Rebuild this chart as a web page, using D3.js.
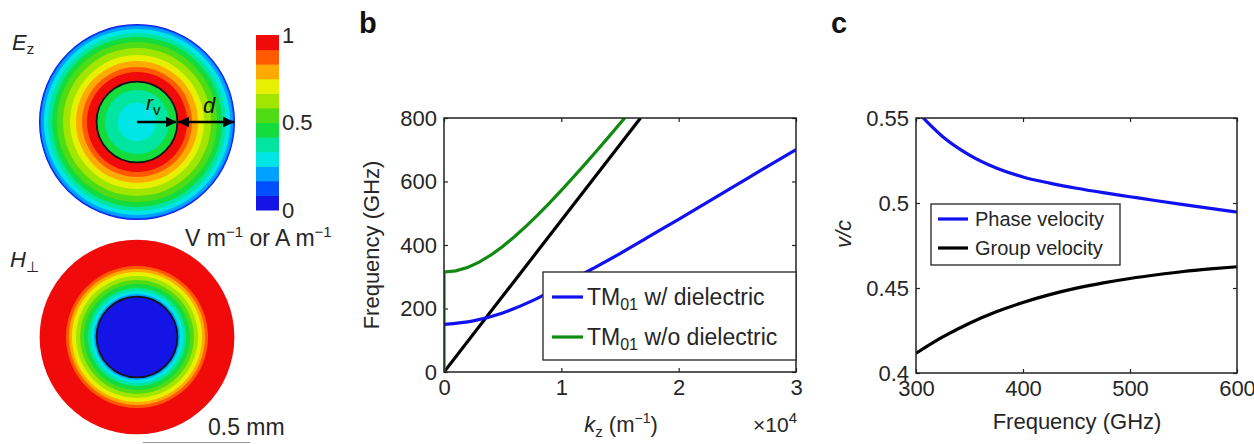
<!DOCTYPE html>
<html>
<head>
<meta charset="utf-8">
<script src="https://cdn.jsdelivr.net/npm/d3@7"></script>
<style>
  body { margin: 0; background: #fff; }
  svg { display: block; font-family: "Liberation Sans", Arial, Helvetica, sans-serif; }
</style>
</head>
<body>
<svg id="fig" width="1254" height="444"></svg>
<script>
// panel a: radial field maps, radius in mm (outer edge of each ring) and normalised field
var rv = 0.189, rOuter = 0.458;
var ezRadius = [0.090, 0.150, 0.189, 0.234, 0.257, 0.285, 0.313, 0.346, 0.374, 0.397, 0.416, 0.435, 0.449, 0.454, 0.458];
var ezValue  = [0.30, 0.38, 0.46, 0.96, 0.88, 0.79, 0.71, 0.62, 0.54, 0.46, 0.38, 0.29, 0.21, 0.12, 0.04];
var hRadius = [0.189, 0.201, 0.215, 0.229, 0.248, 0.266, 0.285, 0.304, 0.318, 0.332, 0.455];
var hValue  = [0.04, 0.21, 0.29, 0.38, 0.46, 0.54, 0.62, 0.71, 0.79, 0.88, 0.96];
var cbTicks = [0, 0.5, 1];

// panel b: dispersion, kz in 1e4 m^-1, frequency in GHz
var blueK = [0, 0.25, 0.5, 0.75, 1.0, 1.25, 1.5, 1.75, 2.0, 2.25, 2.5, 2.75, 3.0];
var blueF = [150, 161, 186, 224, 272, 322, 373, 427, 481, 536, 591, 646, 700];
var greenK = [0, 0, 0.1, 0.2, 0.3, 0.4, 0.5, 0.6, 0.7, 0.8, 0.9, 1.0, 1.1, 1.2, 1.3, 1.4, 1.5, 1.54];
var greenF = [0, 315, 318.6, 329.2, 346.0, 368.4, 395.3, 425.8, 459.3, 495.1, 532.8, 572.0, 612.5, 653.9, 696.1, 739.0, 782.5, 800];
var lightK = [0, 1.675];
var lightF = [0, 800];
var bXTicks = [0, 1, 2, 3];
var bYTicks = [0, 200, 400, 600, 800];

// panel c: velocities vs frequency
var velF = [300, 325, 350, 375, 400, 425, 450, 475, 500, 525, 550, 575, 600];
var phaseV = [0.5545, 0.5390, 0.5282, 0.5206, 0.5153, 0.5117, 0.5087, 0.5061, 0.5037, 0.5013, 0.4990, 0.4968, 0.4947];
var groupV = [0.4116, 0.4212, 0.4293, 0.4360, 0.4415, 0.4461, 0.4499, 0.4530, 0.4556, 0.4578, 0.4597, 0.4612, 0.4625];
var cXTicks = [300, 400, 500, 600];
var cYTicks = [0.4, 0.45, 0.5, 0.55];

var jet12 = ["#1414e6", "#0050ff", "#00a0ff", "#00e6e6", "#00e6a0", "#14dc3c",
             "#50dc14", "#a0e600", "#e6f000", "#ffaa00", "#ff5a00", "#f00a0a"];
var ink = "#262626";

var svg = d3.select("#fig");
var color = d3.scaleQuantize().domain([0, 1]).range(jet12);
var rScale = d3.scaleLinear().domain([0, 0.5]).range([0, 107]);

var drawMap = function(cx, cy, radii, values) {
  var g = svg.append("g").attr("transform", "translate(" + cx + "," + cy + ")");
  var rings = radii.map(function(r, i) { return {r: r, v: values[i]}; }).reverse();
  g.selectAll("circle.ring").data(rings).enter().append("circle")
      .attr("class", "ring")
      .attr("r", function(d) { return rScale(d.r); })
      .attr("fill", function(d) { return color(d.v); });
  g.append("circle")
      .attr("r", rScale(rv))
      .attr("fill", "none")
      .attr("stroke", "#141414")
      .attr("stroke-width", 1.8);
  return g;
};

// ---- panel a
var ez = drawMap(137, 122, ezRadius, ezValue);
drawMap(137, 337, hRadius, hValue);

var defs = svg.append("defs");
defs.append("marker").attr("id", "head")
    .attr("viewBox", "0 0 10 10").attr("refX", 10).attr("refY", 5)
    .attr("markerWidth", 4.2).attr("markerHeight", 4.2)
    .attr("orient", "auto-start-reverse")
  .append("path").attr("d", "M0,0L10,5L0,10z").attr("fill", "#000");

ez.append("line")
    .attr("x1", 0).attr("x2", rScale(rv) - 1).attr("y1", 0).attr("y2", 0)
    .attr("stroke", "#000").attr("stroke-width", 2.6)
    .attr("marker-end", "url(#head)");
ez.append("line")
    .attr("x1", rScale(rv) + 1).attr("x2", rScale(rOuter) - 1).attr("y1", 0).attr("y2", 0)
    .attr("stroke", "#000").attr("stroke-width", 2.6)
    .attr("marker-start", "url(#head)").attr("marker-end", "url(#head)");

var rvLab = svg.append("text").attr("x", 146).attr("y", 110)
    .attr("font-size", 21).attr("font-style", "italic").attr("fill", "#111").text("r");
rvLab.append("tspan").attr("dy", 5).attr("font-size", 15).attr("font-style", "normal").text("v");
svg.append("text").attr("x", 203).attr("y", 113)
    .attr("font-size", 22).attr("font-style", "italic").attr("fill", "#111").text("d");

var ezLab = svg.append("text").attr("x", 12).attr("y", 50)
    .attr("font-size", 22).attr("font-style", "italic").attr("fill", ink).text("E");
ezLab.append("tspan").attr("dy", 4).attr("font-size", 15).attr("font-style", "normal").text("z");
var hLab = svg.append("text").attr("x", 10).attr("y", 267)
    .attr("font-size", 22).attr("font-style", "italic").attr("fill", ink).text("H");
hLab.append("tspan").attr("dy", 5).attr("font-size", 15).attr("font-style", "normal").text("\u22A5");

// colorbar
var cbY = d3.scaleLinear().domain([0, 1]).range([210, 35]);
var cbBands = d3.range(jet12.length).map(function(i) { return i / jet12.length; });
svg.selectAll("rect.cb").data(cbBands).enter().append("rect")
    .attr("class", "cb")
    .attr("x", 256).attr("width", 23)
    .attr("y", function(d) { return cbY(d + 1 / jet12.length); })
    .attr("height", function(d) { return cbY(d) - cbY(d + 1 / jet12.length) + 0.5; })
    .attr("fill", function(d) { return color(d + 0.5 / jet12.length); });
svg.selectAll("text.cbt").data(cbTicks).enter().append("text")
    .attr("class", "cbt")
    .attr("x", 282)
    .attr("y", function(d) { return cbY(d) + 2; })
    .attr("dominant-baseline", "middle")
    .attr("font-size", 22).attr("fill", ink)
    .text(function(d) { return d; });

var unit = svg.append("text").attr("x", 185).attr("y", 246).attr("font-size", 23).attr("fill", ink);
unit.append("tspan").text("V m");
unit.append("tspan").attr("dy", -9).attr("font-size", 15).text("\u22121");
unit.append("tspan").attr("dy", 9).text(" or A m");
unit.append("tspan").attr("dy", -9).attr("font-size", 15).text("\u22121");

svg.append("text").attr("x", 208).attr("y", 435).attr("font-size", 23).attr("fill", ink).text("0.5 mm");
svg.append("line")
    .attr("x1", 143).attr("x2", 143 + rScale(0.5)).attr("y1", 442.5).attr("y2", 442.5)
    .attr("stroke", "#999").attr("stroke-width", 1.2);

// ---- axes helper
var drawFrame = function(x, y, xt, yt, xfmt, yfmt) {
  var x0 = x.range()[0], x1 = x.range()[1], y0 = y.range()[0], y1 = y.range()[1];
  var g = svg.append("g");
  g.append("g").attr("transform", "translate(0," + y0 + ")")
      .call(d3.axisBottom(x).tickValues(xt).tickSize(-4).tickSizeOuter(0).tickPadding(7).tickFormat(xfmt));
  g.append("g").attr("transform", "translate(" + x0 + ",0)")
      .call(d3.axisLeft(y).tickValues(yt).tickSize(-4).tickSizeOuter(0).tickPadding(7).tickFormat(yfmt));
  g.append("g").attr("transform", "translate(0," + y1 + ")")
      .call(d3.axisTop(x).tickValues(xt).tickSize(-4).tickSizeOuter(0).tickFormat(""));
  g.append("g").attr("transform", "translate(" + x1 + ",0)")
      .call(d3.axisRight(y).tickValues(yt).tickSize(-4).tickSizeOuter(0).tickFormat(""));
  g.selectAll(".domain").remove();
  g.selectAll(".tick line").attr("stroke", "#222").attr("stroke-width", 1.2);
  g.selectAll(".tick text").attr("font-size", 22).attr("fill", ink)
      .attr("font-family", "Liberation Sans, Arial, sans-serif");
  return g;
};
var drawBox = function(x, y) {
  svg.append("rect")
      .attr("x", x.range()[0]).attr("y", y.range()[1])
      .attr("width", x.range()[1] - x.range()[0])
      .attr("height", y.range()[0] - y.range()[1])
      .attr("fill", "none").attr("stroke", "#222").attr("stroke-width", 1.5);
};
var addClip = function(id, x, y) {
  defs.append("clipPath").attr("id", id).append("rect")
      .attr("x", x.range()[0]).attr("y", y.range()[1])
      .attr("width", x.range()[1] - x.range()[0])
      .attr("height", y.range()[0] - y.range()[1]);
};
var plotLine = function(x, y, xs, ys, col, clip) {
  var pts = xs.map(function(d, i) { return [d, ys[i]]; });
  svg.append("path")
      .datum(pts)
      .attr("clip-path", "url(#" + clip + ")")
      .attr("fill", "none").attr("stroke", col).attr("stroke-width", 3.2)
      .attr("stroke-linejoin", "round")
      .attr("d", d3.line().x(function(d) { return x(d[0]); }).y(function(d) { return y(d[1]); })
        .curve(d3.curveMonotoneX));
};

// ---- panel b
var xB = d3.scaleLinear().domain([0, 3]).range([444, 796]);
var yB = d3.scaleLinear().domain([0, 800]).range([372, 118]);
addClip("clipB", xB, yB);
drawFrame(xB, yB, bXTicks, bYTicks, d3.format("d"), d3.format("d"));
plotLine(xB, yB, lightK, lightF, "#000", "clipB");
svg.append("path")
    .datum(greenK.map(function(d, i) { return [d, greenF[i]]; }))
    .attr("clip-path", "url(#clipB)")
    .attr("fill", "none").attr("stroke", "#108a10").attr("stroke-width", 3.2)
    .attr("d", d3.line().x(function(d) { return xB(d[0]); }).y(function(d) { return yB(d[1]); }));
plotLine(xB, yB, blueK, blueF, "#1010f0", "clipB");
drawBox(xB, yB);

var legB = svg.append("g");
legB.append("rect").attr("x", 543).attr("y", 272).attr("width", 253).attr("height", 88)
    .attr("fill", "#fff").attr("stroke", "#222").attr("stroke-width", 1.3);
var legBItems = [{c: "#1010f0", t: " w/ dielectric"}, {c: "#108a10", t: " w/o dielectric"}];
legBItems.forEach(function(d, i) {
  var yy = 297 + i * 40;
  legB.append("line").attr("x1", 552).attr("x2", 583).attr("y1", yy).attr("y2", yy)
      .attr("stroke", d.c).attr("stroke-width", 3.2);
  var t = legB.append("text").attr("x", 587).attr("y", yy + 8).attr("font-size", 23).attr("fill", ink).text("TM");
  t.append("tspan").attr("dy", 5).attr("font-size", 16).text("01");
  t.append("tspan").attr("dy", -5).text(d.t);
});

var kzLab = svg.append("text").attr("x", 621).attr("y", 432).attr("text-anchor", "middle")
    .attr("font-size", 22).attr("fill", ink);
kzLab.append("tspan").attr("font-style", "italic").text("k");
kzLab.append("tspan").attr("dy", 5).attr("font-size", 15).text("z");
kzLab.append("tspan").attr("dy", -5).text(" (m");
kzLab.append("tspan").attr("dy", -9).attr("font-size", 14).text("\u22121");
kzLab.append("tspan").attr("dy", 9).text(")");
var expLab = svg.append("text").attr("x", 797).attr("y", 432).attr("text-anchor", "end")
    .attr("font-size", 21).attr("fill", ink).text("\u00D710");
expLab.append("tspan").attr("dy", -9).attr("font-size", 15).text("4");

svg.append("text").attr("transform", "translate(379,245) rotate(-90)")
    .attr("text-anchor", "middle").attr("font-size", 22).attr("fill", ink).text("Frequency (GHz)");
svg.append("text").attr("x", 359).attr("y", 33).attr("font-size", 29).attr("font-weight", "bold")
    .attr("fill", "#111").text("b");

// ---- panel c
var xC = d3.scaleLinear().domain([300, 600]).range([916, 1237]);
var yC = d3.scaleLinear().domain([0.4, 0.55]).range([373, 118]);
addClip("clipC", xC, yC);
drawFrame(xC, yC, cXTicks, cYTicks, d3.format("d"), function(d) { return String(d); });
plotLine(xC, yC, velF, phaseV, "#1010f0", "clipC");
plotLine(xC, yC, velF, groupV, "#000", "clipC");
drawBox(xC, yC);

var legC = svg.append("g");
legC.append("rect").attr("x", 931).attr("y", 204).attr("width", 189).attr("height", 61)
    .attr("fill", "#fff").attr("stroke", "#222").attr("stroke-width", 1.3);
[{c: "#1010f0", t: "Phase velocity"}, {c: "#000", t: "Group velocity"}].forEach(function(d, i) {
  var yy = 219 + i * 29;
  legC.append("line").attr("x1", 938).attr("x2", 968).attr("y1", yy).attr("y2", yy)
      .attr("stroke", d.c).attr("stroke-width", 3.2);
  legC.append("text").attr("x", 975).attr("y", yy + 7).attr("font-size", 20).attr("fill", ink).text(d.t);
});

svg.append("text").attr("x", 1077).attr("y", 429).attr("text-anchor", "middle")
    .attr("font-size", 22).attr("fill", ink).text("Frequency (GHz)");
svg.append("text").attr("transform", "translate(851,234) rotate(-90)")
    .attr("text-anchor", "middle").attr("font-size", 22).attr("font-style", "italic")
    .attr("fill", ink).text("v/c");
svg.append("text").attr("x", 831).attr("y", 33).attr("font-size", 29).attr("font-weight", "bold")
    .attr("fill", "#111").text("c");
</script>
</body>
</html>
